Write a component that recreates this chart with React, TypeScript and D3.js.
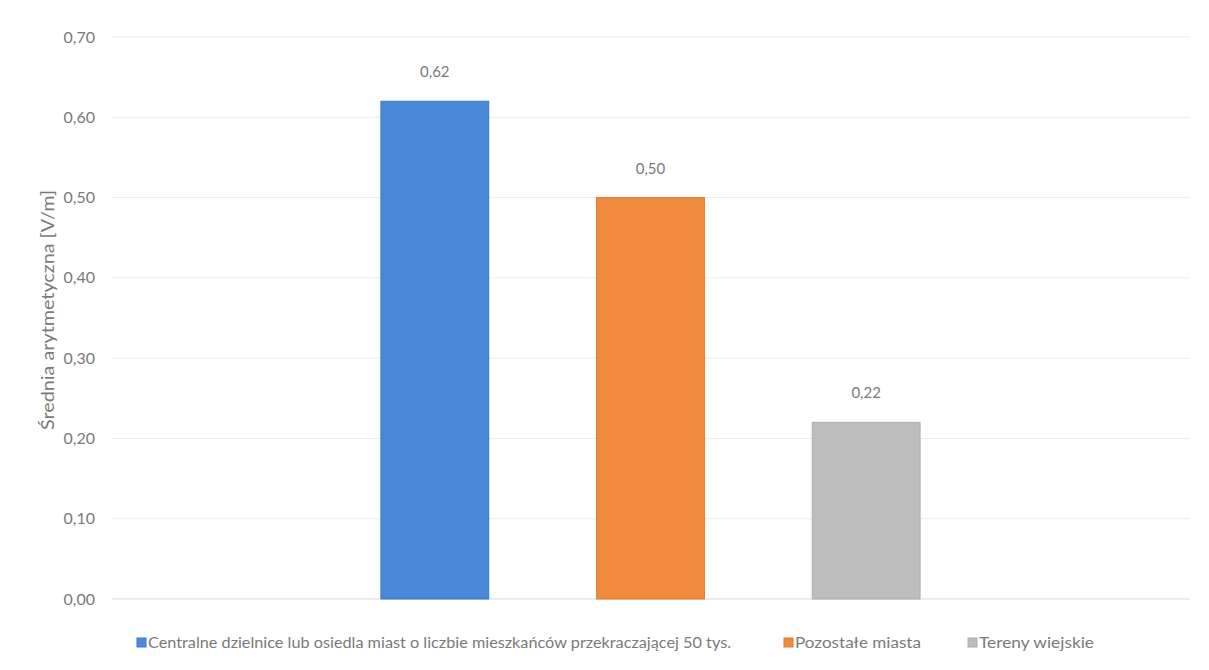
import React from "react";
import * as d3 from "d3";

const series = [
  "Centralne dzielnice lub osiedla miast o liczbie mieszkańców przekraczającej 50 tys.",
  "Pozostałe miasta",
  "Tereny wiejskie",
];
const values = [0.62, 0.5, 0.22];
const colors = ["#4a88d8", "#f08a3c", "#bdbdbd"];
const strokeColors = ["#3b78c8", "#e07a2c", "#adadad"];
const yTicks = [0, 0.1, 0.2, 0.3, 0.4, 0.5, 0.6, 0.7];
const yTitle = "Średnia arytmetyczna [V/m]";

const W = 1209;
const H = 670;
const plot = { left: 112, right: 1190, top: 37, bottom: 599 };

const fmt = (v: number) => v.toFixed(2).replace(".", ",");

export default function App() {
  const y = d3.scaleLinear().domain([0, 0.7]).range([plot.bottom, plot.top]);
  const x = d3
    .scaleBand<string>()
    .domain(series)
    .range([327, 974])
    .paddingInner(0.5)
    .paddingOuter(0.25);
  const textColor = "#7a7a7a";
  const font = "Lato, 'Open Sans', sans-serif";
  const legendX = [137, 784, 968];
  const legendW = [583, 126, 115];
  return (
    <svg
      width={W}
      height={H}
      style={{ position: "absolute", left: 0, top: 0, background: "#fff" }}
      fontFamily={font}
    >
      {yTicks.map((t) => (
        <g key={t}>
          <line
            x1={plot.left}
            x2={plot.right}
            y1={y(t)}
            y2={y(t)}
            stroke={t === 0 ? "#d9d9d9" : "#ececec"}
            strokeWidth={1}
          />
          <text
            x={95}
            y={y(t)}
            dy="0.35em"
            textAnchor="end"
            fontSize={16}
            fill={textColor}
          >
            {fmt(t)}
          </text>
        </g>
      ))}
      <text
        transform={`translate(54,310) rotate(-90)`}
        textAnchor="middle"
        fontSize={18}
        fill={textColor}
        textLength={240}
        lengthAdjust="spacingAndGlyphs"
      >
        {yTitle}
      </text>
      {series.map((s, i) => (
        <g key={s}>
          <rect
            x={x(s)!}
            y={y(values[i])}
            width={x.bandwidth()}
            height={y(0) - y(values[i])}
            fill={colors[i]}
            stroke={strokeColors[i]}
            strokeWidth={1}
          />
          <text
            x={x(s)! + x.bandwidth() / 2}
            y={y(values[i]) - 24}
            textAnchor="middle"
            fontSize={15}
            fill={textColor}
          >
            {fmt(values[i])}
          </text>
        </g>
      ))}
      {series.map((s, i) => (
        <g key={"lg" + s}>
          <rect
            x={legendX[i]}
            y={638}
            width={9}
            height={9}
            fill={colors[i]}
            stroke={strokeColors[i]}
          />
          <text
            x={legendX[i] + 11}
            y={643}
            dy="0.35em"
            fontSize={15.5}
            fill={textColor}
            textLength={legendW[i]}
            lengthAdjust="spacingAndGlyphs"
          >
            {s}
          </text>
        </g>
      ))}
    </svg>
  );
}
